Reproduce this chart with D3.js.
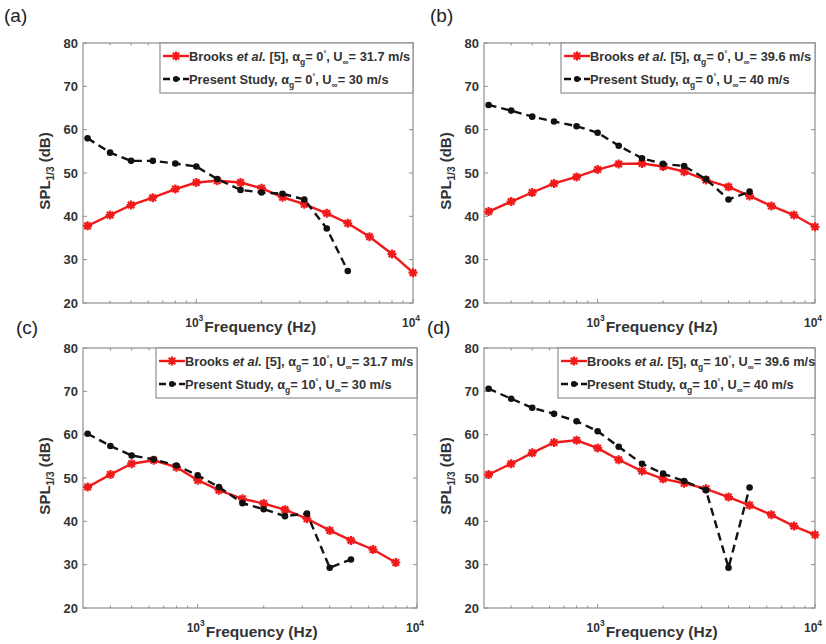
<!DOCTYPE html>
<html>
<head>
<meta charset="utf-8">
<script src="https://cdn.jsdelivr.net/npm/d3@7"></script>
<style>
  body { margin: 0; background: #fff; }
  svg { font-family: "Liberation Sans", Arial, sans-serif; }
</style>
</head>
<body>
<script>
const width = 826, height = 644;

// one-third octave band centres (Hz)
const freqBrooks = [315, 400, 500, 630, 800, 1000, 1250, 1600, 2000, 2500, 3150, 4000, 5000, 6300, 8000, 10000];
const freqPresent = [315, 400, 500, 630, 800, 1000, 1250, 1600, 2000, 2500, 3150, 4000, 5000];

// SPL 1/3 (dB)
const brooksA = [37.8, 40.3, 42.6, 44.3, 46.3, 47.8, 48.2, 47.8, 46.5, 44.4, 42.8, 40.7, 38.4, 35.3, 31.3, 27.0];
const presentA = [58.0, 54.7, 52.8, 52.8, 52.2, 51.5, 48.6, 46.1, 45.5, 45.2, 43.9, 37.2, 27.4];
const brooksB = [41.1, 43.4, 45.5, 47.6, 49.1, 50.8, 52.1, 52.2, 51.5, 50.3, 48.4, 46.8, 44.7, 42.4, 40.3, 37.6];
const presentB = [65.7, 64.4, 63.0, 61.9, 60.8, 59.3, 56.3, 53.4, 52.1, 51.6, 48.6, 43.9, 45.7];
const brooksC = [47.9, 50.8, 53.3, 54.1, 52.5, 49.5, 47.2, 45.2, 44.1, 42.7, 40.6, 37.9, 35.6, 33.5, 30.5];
const presentC = [60.2, 57.4, 55.2, 54.3, 52.9, 50.6, 47.9, 44.2, 42.8, 41.2, 41.8, 29.3, 31.2];
const brooksD = [50.8, 53.3, 55.8, 58.2, 58.7, 56.9, 54.2, 51.6, 49.8, 48.8, 47.5, 45.6, 43.7, 41.5, 38.9, 36.9];
const presentD = [70.6, 68.3, 66.2, 64.8, 63.1, 60.8, 57.2, 53.3, 51.0, 49.3, 47.2, 29.3, 47.8];

const yTicks = [20, 30, 40, 50, 60, 70, 80];
const xMajor = [1000, 10000];
const xMinor = [400, 500, 600, 700, 800, 900, 2000, 3000, 4000, 5000, 6000, 7000, 8000, 9000];

const panels = [
  { tag: '(a)', tagX: 4, tagY: 22, box: [83, 413, 43, 303], legW: 253, brooks: brooksA, present: presentA, aoa: '0', uB: '31.7', uP: '30' },
  { tag: '(b)', tagX: 430, tagY: 22, box: [484, 815, 43, 303], legW: 254, brooks: brooksB, present: presentB, aoa: '0', uB: '39.6', uP: '40' },
  { tag: '(c)', tagX: 16, tagY: 334, box: [83, 417, 348, 608], legW: 261, brooks: brooksC, present: presentC, aoa: '10', uB: '31.7', uP: '30' },
  { tag: '(d)', tagX: 427, tagY: 334, box: [484, 815, 348, 608], legW: 257, brooks: brooksD, present: presentD, aoa: '10', uB: '39.6', uP: '40' }
];

const red = '#f01a1a';
const axisCol = '#8f8f8f';
const textCol = '#333';

const svg = d3.select('body').append('svg')
  .attr('width', width)
  .attr('height', height);

function asterisk(g, x, y) {
  const r = 4.5, d = r * 0.72;
  g.append('path')
    .attr('d', `M${x - r},${y}H${x + r}M${x},${y - r}V${y + r}M${x - d},${y - d}L${x + d},${y + d}M${x - d},${y + d}L${x + d},${y - d}`)
    .attr('stroke', red)
    .attr('stroke-width', 2.2)
    .attr('fill', 'none');
}

// legend label with sub/superscripts
function legendText(g, x, y, first, aoa, u) {
  const t = g.append('text')
    .attr('x', x).attr('y', y)
    .attr('font-size', 12.8)
    .attr('font-weight', 'bold')
    .attr('fill', textCol);
  if (first) {
    t.append('tspan').text('Brooks ');
    t.append('tspan').attr('font-style', 'italic').text('et al.');
    t.append('tspan').text(' [5], \u03b1');
  } else {
    t.append('tspan').text('Present Study, \u03b1');
  }
  t.append('tspan').attr('dy', 4).attr('font-size', 8.5).text('g');
  t.append('tspan').attr('dy', -4).text('= ' + aoa);
  t.append('tspan').attr('dy', -5).attr('font-size', 7).text('\u00b0');
  t.append('tspan').attr('dy', 5).text(', U');
  t.append('tspan').attr('dy', 4).attr('font-size', 8.5).text('\u221e');
  t.append('tspan').attr('dy', -4).text('= ' + u + ' m/s');
}

panels.forEach(p => {
  const [x0, x1, y0, y1] = p.box;
  const x = d3.scaleLog().domain([300, 10000]).range([x0, x1]);
  const y = d3.scaleLinear().domain([20, 80]).range([y1, y0]);
  const g = svg.append('g');

  // panel tag
  g.append('text')
    .attr('x', p.tagX).attr('y', p.tagY)
    .attr('font-size', 19)
    .attr('fill', '#222')
    .text(p.tag);

  // axes box
  g.append('rect')
    .attr('x', x0).attr('y', y0)
    .attr('width', x1 - x0).attr('height', y1 - y0)
    .attr('fill', 'none')
    .attr('stroke', axisCol)
    .attr('stroke-width', 1.2);

  // ticks, inward on all four sides
  const ticks = g.append('g').attr('stroke', axisCol).attr('stroke-width', 1);
  xMinor.forEach(f => {
    ticks.append('line').attr('x1', x(f)).attr('x2', x(f)).attr('y1', y1).attr('y2', y1 - 2.5);
    ticks.append('line').attr('x1', x(f)).attr('x2', x(f)).attr('y1', y0).attr('y2', y0 + 2.5);
  });
  xMajor.forEach(f => {
    ticks.append('line').attr('x1', x(f)).attr('x2', x(f)).attr('y1', y1).attr('y2', y1 - 4);
    ticks.append('line').attr('x1', x(f)).attr('x2', x(f)).attr('y1', y0).attr('y2', y0 + 4);
  });
  yTicks.forEach(v => {
    ticks.append('line').attr('x1', x0).attr('x2', x0 + 4).attr('y1', y(v)).attr('y2', y(v));
    ticks.append('line').attr('x1', x1).attr('x2', x1 - 4).attr('y1', y(v)).attr('y2', y(v));
  });

  // y tick labels
  g.selectAll(null).data(yTicks).enter().append('text')
    .attr('x', x0 - 5)
    .attr('y', d => y(d) + 4.5)
    .attr('text-anchor', 'end')
    .attr('font-size', 13)
    .attr('font-weight', 'bold')
    .attr('fill', textCol)
    .text(d => d);

  // x tick labels 10^3, 10^4
  xMajor.forEach(f => {
    const t = g.append('text')
      .attr('x', x(f) - 2).attr('y', y1 + 24)
      .attr('text-anchor', 'middle')
      .attr('font-size', 12)
      .attr('font-weight', 'bold')
      .attr('fill', textCol);
    t.append('tspan').text('10');
    t.append('tspan').attr('dy', -6).attr('font-size', 8.5).text(Math.round(Math.log10(f)));
  });

  // x label
  g.append('text')
    .attr('x', x(1000) + 8).attr('y', y1 + 29)
    .attr('font-size', 15.5)
    .attr('font-weight', 'bold')
    .attr('fill', textCol)
    .text('Frequency (Hz)');

  // y label
  const yl = g.append('text')
    .attr('transform', `translate(${x0 - 33},${(y0 + y1) / 2 - 2}) rotate(-90)`)
    .attr('text-anchor', 'middle')
    .attr('font-size', 15)
    .attr('font-weight', 'bold')
    .attr('fill', textCol);
  yl.append('tspan').text('SPL');
  yl.append('tspan').attr('dy', 4).attr('font-size', 10).text('1/3');
  yl.append('tspan').attr('dy', -4).text(' (dB)');

  const brooks = freqBrooks.slice(0, p.brooks.length).map((f, i) => [f, p.brooks[i]]);
  const present = freqPresent.map((f, i) => [f, p.present[i]]);
  const line = d3.line().x(d => x(d[0])).y(d => y(d[1]));

  // Brooks et al. (red, solid, asterisks)
  g.append('path')
    .attr('d', line(brooks))
    .attr('fill', 'none')
    .attr('stroke', red)
    .attr('stroke-width', 2.4);
  brooks.forEach(d => asterisk(g, x(d[0]), y(d[1])));

  // present study (black, dashed, dots)
  g.append('path')
    .attr('d', line(present))
    .attr('fill', 'none')
    .attr('stroke', '#111')
    .attr('stroke-width', 2.4)
    .attr('stroke-dasharray', '8,5');
  g.selectAll(null).data(present).enter().append('circle')
    .attr('cx', d => x(d[0]))
    .attr('cy', d => y(d[1]))
    .attr('r', 3.3)
    .attr('fill', '#111');

  // legend
  const lx = x1 - p.legW, ly = y0, lh = 50;
  const leg = g.append('g');
  leg.append('rect')
    .attr('x', lx).attr('y', ly)
    .attr('width', p.legW).attr('height', lh)
    .attr('fill', '#fff')
    .attr('stroke', axisCol)
    .attr('stroke-width', 1.2);
  leg.append('line')
    .attr('x1', lx + 3).attr('x2', lx + 29).attr('y1', ly + 13).attr('y2', ly + 13)
    .attr('stroke', red).attr('stroke-width', 2.4);
  asterisk(leg, lx + 16, ly + 13);
  legendText(leg, lx + 29, ly + 18, true, p.aoa, p.uB);
  leg.append('line')
    .attr('x1', lx + 3).attr('x2', lx + 29).attr('y1', ly + 36).attr('y2', ly + 36)
    .attr('stroke', '#111').attr('stroke-width', 2.4)
    .attr('stroke-dasharray', '7,3');
  leg.append('circle')
    .attr('cx', lx + 16).attr('cy', ly + 36).attr('r', 3)
    .attr('fill', '#111');
  legendText(leg, lx + 29, ly + 41, false, p.aoa, p.uP);
});
</script>
</body>
</html>
